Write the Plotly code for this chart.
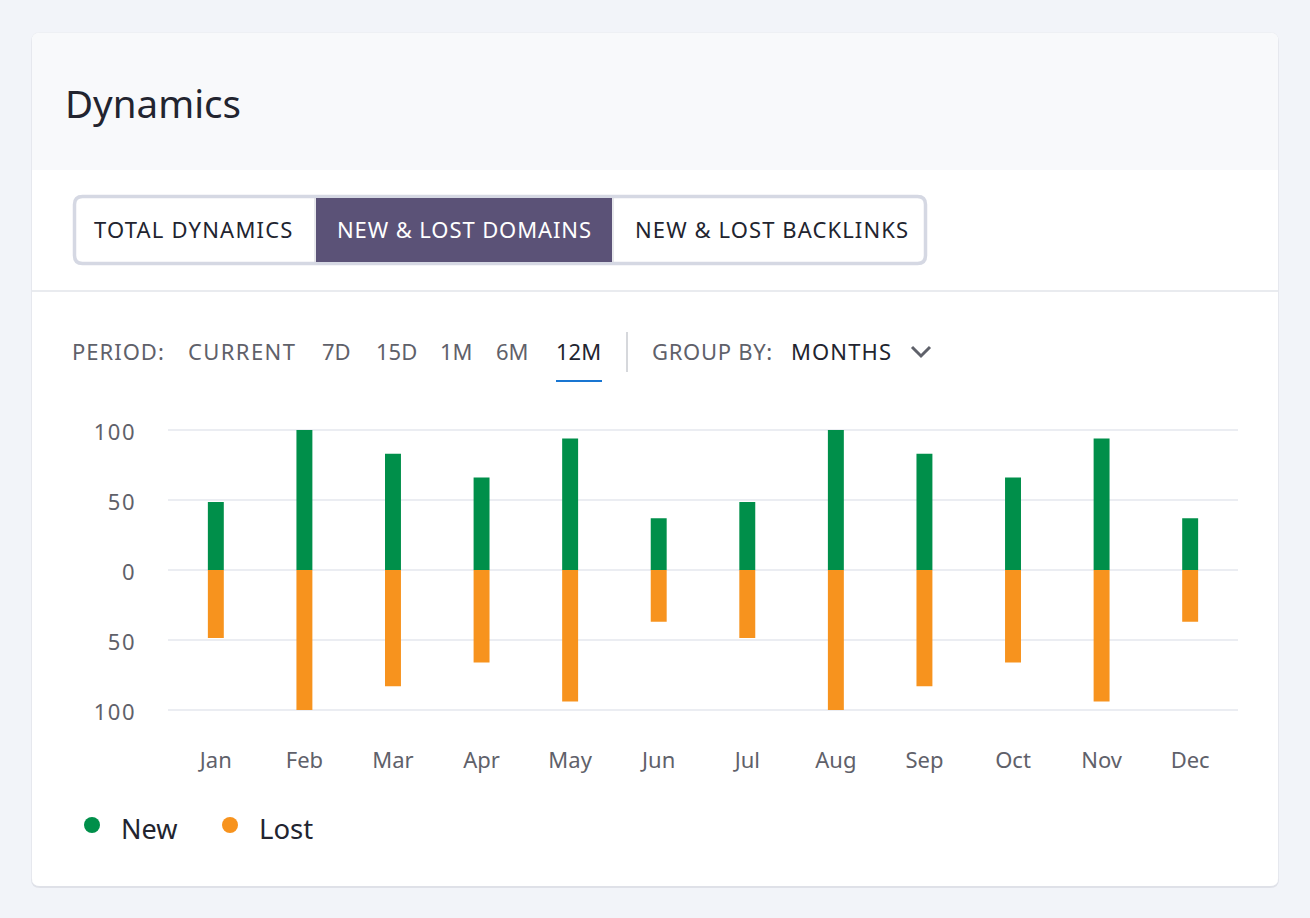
import plotly.graph_objects as go

months = ["Jan", "Feb", "Mar", "Apr", "May", "Jun", "Jul", "Aug", "Sep", "Oct", "Nov", "Dec"]
new_values = [48.5, 100, 83, 66, 94, 37, 48.5, 100, 83, 66, 94, 37]
lost_values = [-48.5, -100, -83, -66, -94, -37, -48.5, -100, -83, -66, -94, -37]
y_ticks = [100, 50, 0, -50, -100]
y_tick_labels = ["100", "50", "0", "50", "100"]

W, H = 1310, 918
L, R, T, B = 168, 1238, 428, 712
FONT = "Noto Sans"
DARK = "#22242f"
GREY = "#5f616a"
GREEN = "#008f4a"
ORANGE = "#f7931e"


def px(x):
    return (x - L) / (R - L)


def py(y):
    return (B - y) / (B - T)


def rrect(x0, y0, x1, y1, r):
    a, b, c, d = px(x0), px(x1), py(y0), py(y1)
    rx, ry = r / (R - L), r / (B - T)
    return (f"M{a+rx},{c} L{b-rx},{c} Q{b},{c} {b},{c-ry} L{b},{d+ry} Q{b},{d} {b-rx},{d} "
            f"L{a+rx},{d} Q{a},{d} {a},{d+ry} L{a},{c-ry} Q{a},{c} {a+rx},{c} Z")


def path_shape(path, fill=None, line=None, width=0, layer="below"):
    return dict(type="path", xref="paper", yref="paper", path=path, fillcolor=fill or "rgba(0,0,0,0)",
                line=dict(color=line or "rgba(0,0,0,0)", width=width), layer=layer)


def rect(x0, y0, x1, y1, fill):
    return dict(type="rect", xref="paper", yref="paper", x0=px(x0), x1=px(x1), y0=py(y0), y1=py(y1),
                fillcolor=fill, line=dict(width=0), layer="below")


def seg(x0, y0, x1, y1, color, width):
    return dict(type="line", xref="paper", yref="paper", x0=px(x0), x1=px(x1), y0=py(y0), y1=py(y1),
                line=dict(color=color, width=width), layer="below")


def circle(cx, cy, r, fill):
    return dict(type="circle", xref="paper", yref="paper", x0=px(cx - r), x1=px(cx + r),
                y0=py(cy + r), y1=py(cy - r), fillcolor=fill, line=dict(width=0), layer="below")


def text(s, x, y, size, color):
    return dict(text=s, xref="paper", yref="paper", x=px(x), y=py(y), xanchor="left", yanchor="middle",
                showarrow=False, font=dict(family=FONT, size=size, color=color))


shapes = [
    path_shape(rrect(31, 33, 1279, 888, 9), fill="#dfe1e8"),
    path_shape(rrect(31.5, 32, 1278.5, 886, 8), fill="#eef0f4"),
    path_shape(rrect(32, 33, 1278, 886, 8), fill="#ffffff"),
    path_shape(f"M{px(32)},{py(170)} L{px(32)},{py(41)} Q{px(32)},{py(33)} {px(40)},{py(33)} "
               f"L{px(1270)},{py(33)} Q{px(1278)},{py(33)} {px(1278)},{py(41)} L{px(1278)},{py(170)} Z",
               fill="#f8f9fb"),
    path_shape(rrect(74.5, 196.5, 925.5, 263.5, 8), fill="#ffffff", line="#d5d8e3", width=3.5),
    rect(316, 198, 612, 262, "#5b5277"),
    seg(315, 198, 315, 262, "#cfd1d8", 1),
    seg(613, 198, 613, 262, "#cfd1d8", 1),
    seg(32, 291, 1278, 291, "#e2e4ea", 1.5),
    seg(556, 381, 602, 381, "#1976d2", 2),
    seg(627, 332, 627, 372, "#c9cbd1", 1.5),
    path_shape(f"M{px(912)},{py(347)} L{px(921)},{py(356)} L{px(930)},{py(347)}", line=GREY, width=3),
    circle(92, 825, 8, GREEN),
    circle(230, 825, 8, ORANGE),
]

annotations = [
    text("Dynamics", 63, 103, 38.5, DARK),
    text("TOTAL DYNAMICS", 92, 229, 22, DARK),
    text("NEW &amp; LOST DOMAINS", 335, 229, 22, "#ffffff"),
    text("NEW &amp; LOST BACKLINKS", 633, 229, 22, DARK),
    text("PERIOD:", 70, 351, 22, GREY),
    text("CURRENT", 186, 351, 22, GREY),
    text("7D", 320, 351, 22, GREY),
    text("15D", 374, 351, 22, GREY),
    text("1M", 438, 351, 22, GREY),
    text("6M", 494, 351, 22, GREY),
    text("12M", 554, 351, 22, DARK),
    text("GROUP BY:", 650, 351, 22, GREY),
    text("MONTHS", 789, 351, 22, DARK),
    text("New", 119, 828, 27, DARK),
    text("Lost", 257, 828, 27.5, DARK),
]

fig = go.Figure()
fig.add_bar(x=months, y=new_values, name="New", marker=dict(color=GREEN, line=dict(width=0)), width=0.18)
fig.add_bar(x=months, y=lost_values, name="Lost", marker=dict(color=ORANGE, line=dict(width=0)), width=0.18)

fig.update_layout(
    width=W, height=H, autosize=False,
    margin=dict(l=L, r=W - R, t=T, b=H - B, pad=0),
    paper_bgcolor="#f2f4f9", plot_bgcolor="#ffffff",
    barmode="relative", showlegend=False,
    shapes=shapes, annotations=annotations,
    font=dict(family=FONT, size=22, color=GREY),
    xaxis=dict(type="category", range=[-0.54, 11.54], showgrid=False, zeroline=False, showline=False,
               ticks="", ticklabelstandoff=33, tickfont=dict(family=FONT, size=22, color=GREY)),
    yaxis=dict(range=[-101.43, 101.43], tickvals=y_ticks, ticktext=y_tick_labels, showline=False,
               gridcolor="#ebedf2", gridwidth=1.5, zeroline=True, zerolinecolor="#ebedf2", zerolinewidth=1.5,
               ticks="", ticklabelstandoff=31, tickfont=dict(family=FONT, size=22, color=GREY)),
)

# Letter-spacing of the card's uppercase labels and the y tick labels (no font option for it in Plotly).
spacing_js = """
document.body.style.margin='0';
document.documentElement.style.overflow='hidden';
var spaced={'TOTAL DYNAMICS':1.2,'NEW & LOST DOMAINS':0.9,'NEW & LOST BACKLINKS':1.1,'PERIOD:':1,
            'CURRENT':1.4,'GROUP BY:':0.7,'MONTHS':1.1};
document.querySelectorAll('.annotation-text').forEach(function(t){
  var s=spaced[t.textContent]; if(!s) return;
  var x0=t.getBBox().x; t.style.letterSpacing=s+'px';
  var x1=t.getBBox().x; t.setAttribute('x',parseFloat(t.getAttribute('x')||0)+(x0-x1));
});
document.querySelectorAll('.ytick text').forEach(function(t){
  t.style.letterSpacing='1.5px'; t.setAttribute('dy','2');
});
"""
fig.write_html("out.html", config={"displayModeBar": False}, post_script=spacing_js)
